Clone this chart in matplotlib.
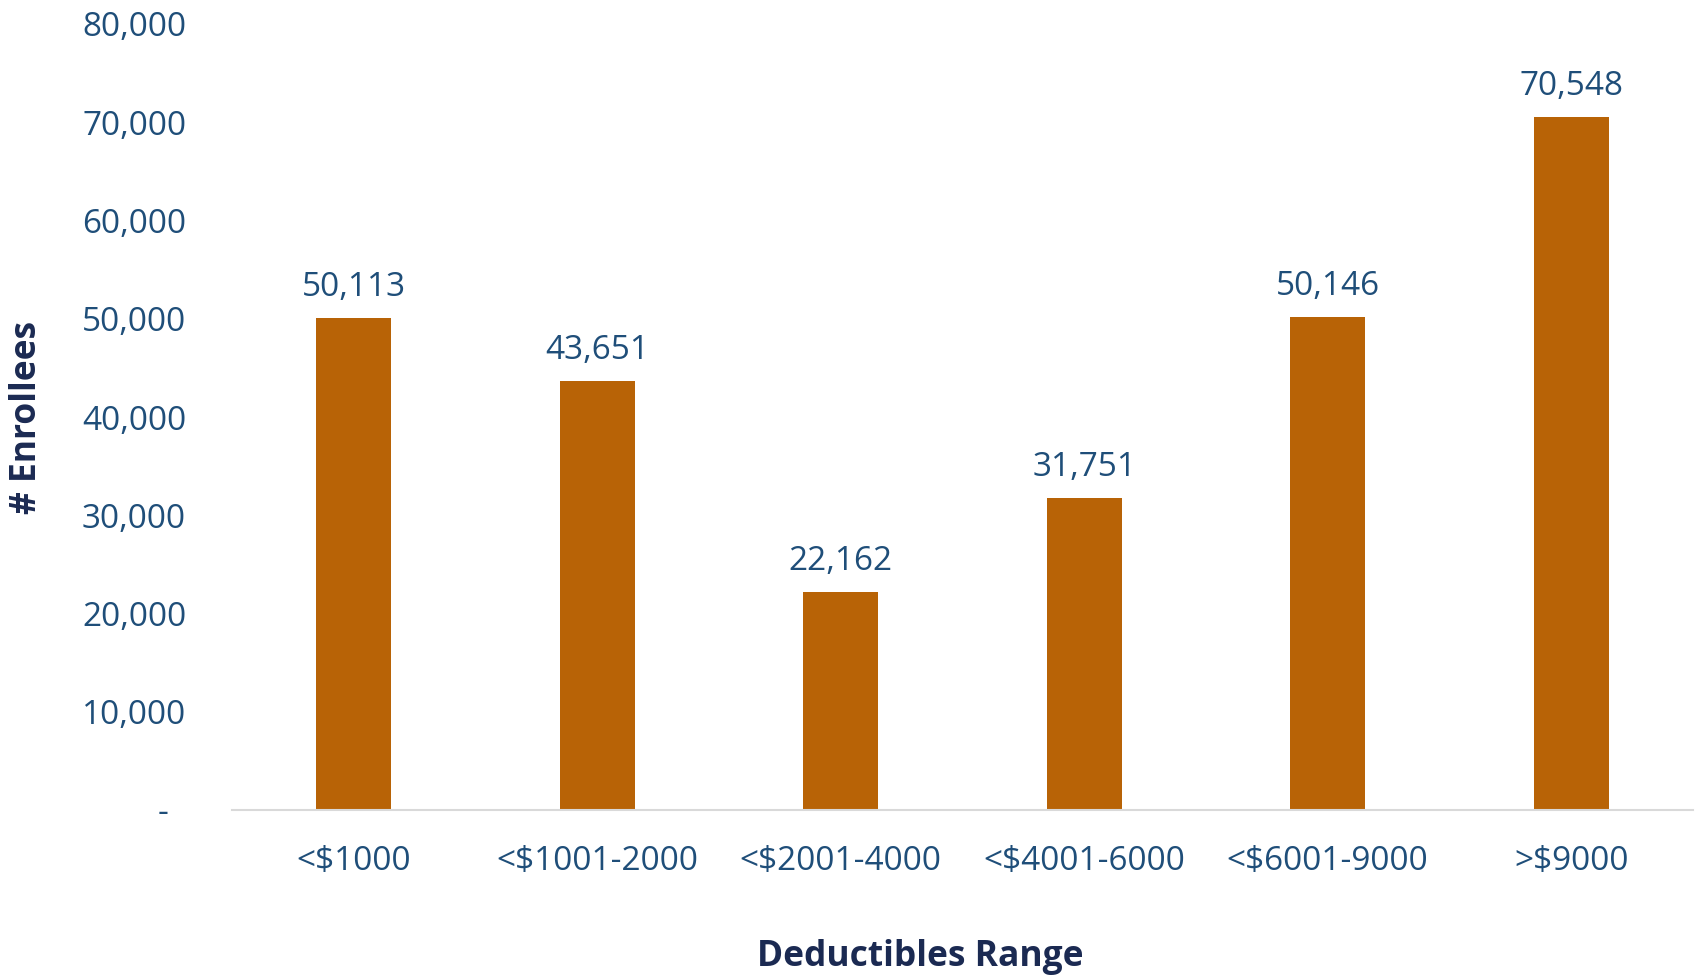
import matplotlib.pyplot as plt
from matplotlib.ticker import FuncFormatter

categories = ['<$1000', '<$1001-2000', '<$2001-4000', '<$4001-6000', '<$6001-9000', '>$9000']
enrollees = [50113, 43651, 22162, 31751, 50146, 70548]

bar_color = '#B86306'
text_color = '#1F4E79'
title_color = '#1B2A52'

plt.rcParams['font.family'] = ['Open Sans', 'DejaVu Sans']

fig = plt.figure(figsize=(16.99, 9.77), dpi=100)
ax = fig.add_axes([232 / 1699, 1 - 810 / 977, (1693 - 232) / 1699, (810 - 24) / 977])

x = range(len(categories))
bars = ax.bar(x, enrollees, width=0.31, color=bar_color, zorder=2)

for b, v in zip(bars, enrollees):
    ax.annotate(f'{v:,}', (b.get_x() + b.get_width() / 2, v), xytext=(0, 10),
                textcoords='offset points', ha='center', va='bottom',
                fontsize=24, color=text_color)

ax.set_xlim(-0.5, len(categories) - 0.5)
ax.set_ylim(0, 80000)
ax.set_yticks(range(0, 80001, 10000))
ax.yaxis.set_major_formatter(FuncFormatter(lambda v, p: '-  ' if v == 0 else f'{int(v):,}'))
ax.set_xticks(list(x))
ax.set_xticklabels(categories)

ax.tick_params(axis='y', length=0, labelsize=24, labelcolor=text_color, pad=33)
ax.tick_params(axis='x', length=0, labelsize=24, labelcolor=text_color, pad=25)

for s in ['top', 'right', 'left']:
    ax.spines[s].set_visible(False)
ax.spines['bottom'].set_color('#D9D9D9')
ax.spines['bottom'].set_linewidth(1.5)

fig.text(27 / 1699, 1 - 417 / 977, '# Enrollees', rotation=90, ha='center', va='center',
         fontsize=25.5, fontweight='bold', color=title_color)
fig.text(920 / 1699, 1 - 957 / 977, 'Deductibles Range', ha='center', va='center',
         fontsize=25.5, fontweight='bold', color=title_color)

fig.savefig('out.png', dpi=100)
